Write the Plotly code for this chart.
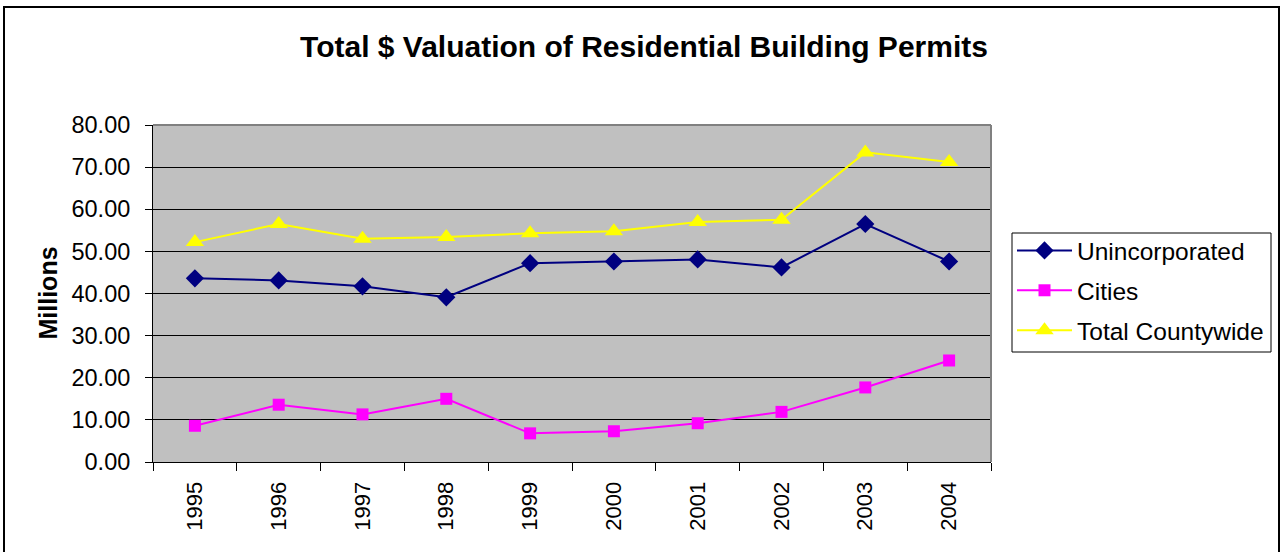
import plotly.graph_objects as go

years = ["1995", "1996", "1997", "1998", "1999", "2000", "2001", "2002", "2003", "2004"]
unincorporated = [43.6, 43.1, 41.7, 39.1, 47.2, 47.6, 48.1, 46.2, 56.5, 47.6]
cities = [8.6, 13.6, 11.3, 15.0, 6.8, 7.3, 9.2, 11.9, 17.7, 24.1]
total_countywide = [52.2, 56.5, 53.0, 53.4, 54.3, 54.8, 57.0, 57.5, 73.5, 71.2]
y_ticks = [0, 10, 20, 30, 40, 50, 60, 70, 80]

FONT = "Liberation Sans, Arial, sans-serif"

W, H = 1281, 552
ML, MR, MT, MB = 153, 290, 125, 90
PW = W - ML - MR
PH = H - MT - MB


def px_x(x):
    return (x - ML) / PW


def px_y(y):
    return (H - MB - y) / PH


fig = go.Figure()

fig.add_trace(go.Scatter(
    x=years, y=unincorporated, name="Unincorporated", mode="lines+markers",
    line=dict(color="#000080", width=2),
    marker=dict(symbol="diamond", size=14, color="#000080"),
    legendgroup="a"))
fig.add_trace(go.Scatter(
    x=years, y=cities, name="Cities", mode="lines+markers",
    line=dict(color="#FF00FF", width=2),
    marker=dict(symbol="square", size=12, color="#FF00FF"),
    legendgroup="b"))
fig.add_trace(go.Scatter(
    x=years, y=total_countywide, name="Total Countywide", mode="lines+markers",
    line=dict(color="#FFFF00", width=2),
    marker=dict(symbol="triangle-up", size=16, color="#FFFF00"),
    legendgroup="c"))

fig.update_layout(
    width=W, height=H,
    margin=dict(l=ML, r=MR, t=MT, b=MB, autoexpand=False),
    paper_bgcolor="white",
    plot_bgcolor="#C0C0C0",
    font=dict(family=FONT, size=22, color="black"),
    title=dict(text="<b>Total $ Valuation of Residential Building Permits</b>",
               x=644 / W, xref="container", xanchor="center",
               y=1 - 46 / H, yref="container", yanchor="middle",
               font=dict(family=FONT, size=30, color="black")),
    showlegend=True,
    legend=dict(x=px_x(1012), y=px_y(228), xanchor="left", yanchor="top",
                bgcolor="rgba(0,0,0,0)", borderwidth=0,
                font=dict(family=FONT, size=24.5, color="black"),
                tracegroupgap=5, itemwidth=55),
    xaxis=dict(type="category", range=[-0.5, 9.5], tickson="boundaries",
               ticks="outside", ticklen=8, tickcolor="black", tickwidth=1,
               tickangle=-90, showgrid=False, showline=True, linecolor="black",
               linewidth=1, zeroline=False, ticklabelstandoff=10,
               tickfont=dict(family=FONT, size=22, color="black"), fixedrange=True),
    yaxis=dict(range=[0, 80], tickvals=y_ticks, tickformat=".2f",
               ticks="outside", ticklen=7, tickcolor="black", tickwidth=1,
               showgrid=True, gridcolor="black", gridwidth=1,
               showline=True, linecolor="black", linewidth=1, zeroline=False,
               ticklabelstandoff=10,
               tickfont=dict(family=FONT, size=23.5, color="black"), fixedrange=True),
    annotations=[dict(text="<b>Millions</b>", x=px_x(47), y=0.5, xref="paper", yref="paper",
                      xanchor="center", yanchor="middle", textangle=-90, showarrow=False,
                      font=dict(family=FONT, size=25, color="black"))],
    shapes=[
        dict(type="line", xref="paper", yref="paper", x0=0, x1=1, y0=1, y1=1,
             line=dict(color="#808080", width=2)),
        dict(type="line", xref="paper", yref="paper", x0=1, x1=1, y0=0, y1=1,
             line=dict(color="#808080", width=2)),
        # legend box
        dict(type="rect", xref="paper", yref="paper",
             x0=px_x(1012), x1=px_x(1271), y0=px_y(352), y1=px_y(233),
             line=dict(color="black", width=1), fillcolor="white", layer="below"),
        # outer chart frame
        dict(type="rect", xref="paper", yref="paper",
             x0=px_x(4), x1=px_x(1279), y0=px_y(565), y1=px_y(7),
             line=dict(color="black", width=2), fillcolor="rgba(0,0,0,0)", layer="above"),
    ],
)

fig.write_html("out.html", config={"displayModeBar": False},
               post_script="document.body.style.margin='0';document.body.style.padding='0';")
